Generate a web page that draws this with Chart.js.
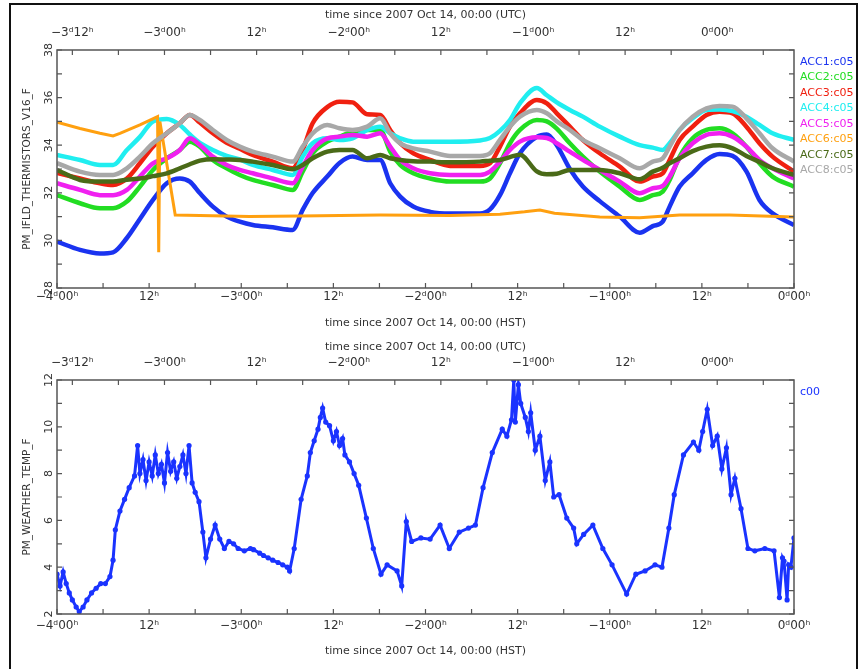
<!DOCTYPE html>
<html><head><meta charset="utf-8">
<script src="https://cdn.jsdelivr.net/npm/chart.js@4.4.0/dist/chart.umd.min.js"></script>
<style>
html,body{margin:0;padding:0;background:#fff;width:864px;height:669px;overflow:hidden}
#frame{position:absolute;left:9px;top:3px;width:849px;height:720px;border:2px solid #111;box-sizing:border-box}
canvas{position:absolute;left:0}
#c1{top:0}
#c2{top:335px}
</style></head><body>
<div id="frame"></div>
<canvas id="c1" width="864" height="335"></canvas>
<canvas id="c2" width="864" height="334"></canvas>
<script>
// ---- tick labels ----
const hstTicks = [-96,-84,-72,-60,-48,-36,-24,-12,0];
const hstLabels = ["−4ᵈ00ʰ","12ʰ","−3ᵈ00ʰ","12ʰ","−2ᵈ00ʰ","12ʰ","−1ᵈ00ʰ","12ʰ","0ᵈ00ʰ"];
const utcTicks = [-84,-72,-60,-48,-36,-24,-12,0];
const utcLabels = ["−3ᵈ12ʰ","−3ᵈ00ʰ","12ʰ","−2ᵈ00ʰ","12ʰ","−1ᵈ00ʰ","12ʰ","0ᵈ00ʰ"];
const utcOffset = 10; // HST = UTC - 10 h
const topYTicks = [28,30,32,34,36,38];
const botYTicks = [2,4,6,8,10,12];

// ---- top panel: thermistors (hours since 2007 Oct 14 00:00 HST) ----
const hours = [-96.0,-93.0,-90.4,-88.7,-86.9,-85.2,-83.5,-81.7,-80.0,-78.7,-77.4,-75.7,-73.9,-72.2,-70.5,-67.9,-65.3,-64.0,-62.7,-60.8,-59.2,-57.5,-55.6,-53.9,-52.6,-51.3,-49.6,-47.4,-44.8,-40.9,-39.6,-38.3,-37.0,-35.7,-33.5,-32.2,-30.9,-29.2,-27.5,-25.3,-22.7,-20.1,-18.4,-17.1,-16.2,-14.9,-13.2,-11.4,-9.7,-8.0,-6.2,-4.5,-2.8,0.0];
const acc1 = [29.95,29.6,29.45,29.5,30.1,30.9,31.7,32.4,32.6,32.47,31.99,31.42,31.0,30.79,30.65,30.55,30.44,31.28,31.99,32.68,33.25,33.52,33.38,33.38,32.4,31.84,31.42,31.2,31.13,31.13,31.3,31.9,32.82,33.66,34.35,34.45,34.0,33.0,32.26,31.65,31.0,30.32,30.6,30.79,31.42,32.26,32.82,33.38,33.63,33.55,32.9,31.7,31.14,30.65];
const acc2 = [31.9,31.56,31.35,31.35,31.63,32.26,32.96,33.45,33.8,34.15,33.94,33.38,33.03,32.75,32.54,32.33,32.12,32.89,33.66,34.15,34.36,34.57,34.64,34.64,33.73,33.17,32.82,32.6,32.47,32.47,32.6,33.24,34.08,34.64,35.06,35.0,34.7,34.08,33.52,32.89,32.26,31.7,31.9,32.05,32.54,33.52,34.29,34.64,34.71,34.5,33.94,33.24,32.68,32.26];
const acc3 = [32.83,32.6,32.4,32.33,32.6,33.24,33.94,34.5,34.92,35.27,34.95,34.5,34.1,33.85,33.59,33.31,33.03,33.8,34.92,35.6,35.83,35.8,35.3,35.27,34.64,34.08,33.66,33.38,33.13,33.13,33.24,33.94,34.78,35.34,35.9,35.76,35.34,34.78,34.22,33.66,33.1,32.47,32.68,32.82,33.38,34.22,34.78,35.27,35.41,35.34,34.78,34.08,33.52,32.89];
const acc4 = [33.59,33.38,33.17,33.17,33.8,34.35,35.0,35.1,34.85,34.45,34.1,33.8,33.55,33.4,33.17,32.96,32.75,33.52,34.08,34.29,34.22,34.29,34.64,34.78,34.5,34.29,34.15,34.15,34.15,34.2,34.3,34.6,35.06,35.76,36.4,36.1,35.8,35.48,35.2,34.78,34.36,34.0,33.9,33.8,34.08,34.64,35.13,35.48,35.5,35.43,35.2,34.85,34.5,34.22];
const acc5 = [32.4,32.12,31.9,31.9,32.12,32.68,33.24,33.45,33.8,34.29,34.01,33.52,33.17,32.96,32.82,32.6,32.4,33.1,33.8,34.29,34.36,34.43,34.36,34.5,33.94,33.38,33.03,32.82,32.75,32.75,32.89,33.31,33.8,34.15,34.33,34.3,34.08,33.73,33.38,32.96,32.47,31.98,32.19,32.29,32.68,33.45,34.08,34.43,34.5,34.36,33.94,33.38,33.03,32.6];
const acc7 = [32.96,32.54,32.47,32.47,32.55,32.6,32.7,32.82,33.03,33.2,33.35,33.41,33.4,33.38,33.31,33.17,32.99,33.17,33.45,33.73,33.8,33.8,33.45,33.59,33.45,33.38,33.33,33.31,33.28,33.31,33.35,33.38,33.5,33.6,32.9,32.78,32.8,32.96,32.96,32.96,32.82,32.57,32.89,33.05,33.24,33.45,33.75,33.94,34.0,33.87,33.55,33.3,33.03,32.75];
const acc8 = [33.25,32.89,32.75,32.75,33.03,33.52,34.08,34.5,34.92,35.27,35.06,34.64,34.22,33.94,33.73,33.52,33.31,33.94,34.5,34.85,34.71,34.64,34.78,35.13,34.5,34.08,33.87,33.73,33.55,33.55,33.66,34.22,34.78,35.2,35.48,35.34,35.0,34.64,34.22,33.87,33.45,33.03,33.31,33.45,33.94,34.64,35.2,35.55,35.65,35.62,35.13,34.5,33.87,33.31];
const acc6Hours = [-96.0,-93.0,-90.4,-88.7,-87.8,-85.2,-82.9,-82.75,-82.6,-80.6,-77.4,-70.9,-64.4,-53.9,-44.8,-38.3,-35.1,-33.1,-31.2,-25.3,-20.1,-14.9,-8.4,0.0];
const acc6 = [34.97,34.7,34.5,34.39,34.5,34.85,35.2,29.5,35.0,31.07,31.05,31.0,31.02,31.07,31.05,31.1,31.2,31.28,31.14,30.98,30.95,31.07,31.07,30.98];

// ---- bottom panel: weather temp ----
const c00Hours = [-96.0,-95.6,-95.2,-94.8,-94.4,-94.0,-93.5,-93.1,-92.6,-92.1,-91.5,-90.9,-90.3,-89.7,-89.1,-88.7,-88.4,-87.8,-87.2,-86.6,-85.9,-85.5,-85.2,-84.8,-84.4,-84.0,-83.6,-83.2,-82.8,-82.4,-82.0,-81.6,-81.2,-80.8,-80.4,-80.0,-79.6,-79.2,-78.8,-78.4,-78.0,-77.5,-77.0,-76.6,-76.0,-75.4,-74.8,-74.2,-73.6,-73.0,-72.4,-71.6,-70.8,-70.4,-69.6,-69.1,-68.5,-67.9,-67.2,-66.6,-66.0,-65.7,-65.1,-64.2,-63.4,-63.0,-62.5,-62.0,-61.7,-61.4,-61.0,-60.5,-60.0,-59.6,-59.2,-58.8,-58.5,-57.9,-57.3,-56.7,-55.7,-54.8,-53.8,-53.0,-51.7,-51.1,-50.5,-49.8,-48.6,-47.4,-46.1,-44.9,-43.6,-42.4,-41.5,-40.5,-39.3,-38.0,-37.4,-36.8,-36.5,-36.3,-35.9,-35.6,-35.0,-34.6,-34.3,-33.7,-33.1,-32.4,-31.8,-31.3,-30.6,-29.6,-28.7,-28.3,-27.4,-26.2,-24.9,-23.7,-21.8,-20.6,-19.4,-18.1,-17.2,-16.3,-15.6,-14.4,-13.1,-12.4,-11.9,-11.3,-10.6,-10.0,-9.4,-8.8,-8.2,-7.7,-6.9,-6.0,-5.1,-3.8,-2.6,-1.9,-1.5,-1.3,-0.9,-0.7,-0.4,0.0];
const c00Temp = [3.7,3.2,3.8,3.3,2.9,2.6,2.3,2.1,2.3,2.6,2.9,3.1,3.3,3.3,3.6,4.3,5.6,6.4,6.9,7.4,7.9,9.2,8.0,8.6,7.7,8.5,7.9,8.8,8.0,8.4,7.6,8.9,8.1,8.5,7.8,8.3,8.8,8.0,9.2,7.6,7.2,6.8,5.5,4.4,5.2,5.8,5.2,4.8,5.1,5.0,4.8,4.7,4.8,4.75,4.6,4.5,4.4,4.3,4.2,4.1,4.0,3.84,4.8,6.9,7.9,8.9,9.4,9.9,10.4,10.8,10.2,10.05,9.4,9.8,9.2,9.5,8.8,8.5,8.0,7.5,6.1,4.8,3.7,4.1,3.84,3.2,5.95,5.1,5.25,5.2,5.8,4.8,5.5,5.67,5.8,7.4,8.9,9.9,9.6,10.3,12.0,10.2,11.8,11.0,10.4,9.8,10.6,9.0,9.6,7.7,8.5,7.0,7.1,6.1,5.67,5.0,5.4,5.8,4.8,4.1,2.85,3.7,3.84,4.1,4.0,5.67,7.1,8.8,9.35,9.0,9.8,10.75,9.2,9.6,8.2,9.1,7.1,7.8,6.5,4.8,4.7,4.8,4.7,2.7,4.4,4.26,2.6,4.1,4.0,5.25];

const FONT = '"DejaVu Sans", sans-serif';
const pts = (xs, ys) => xs.map((h, i) => ({x: h, y: ys[i]}));

function scalesFor(ymin, ymax, topH, bottomH) {
  const hidden = {ticks:{display:false}, grid:{display:false, drawTicks:false}, border:{display:false}};
  return {
    x: Object.assign({type:'linear', min:-96, max:0, position:'bottom', afterFit(s){s.height = bottomH;}}, hidden),
    y: Object.assign({type:'linear', min:ymin, max:ymax, position:'left', afterFit(s){s.width = 57;}}, hidden),
    xTop: Object.assign({type:'linear', min:-96, max:0, position:'top', afterFit(s){s.height = topH;}}, hidden),
    yRight: Object.assign({type:'linear', min:ymin, max:ymax, position:'right', afterFit(s){s.width = 70;}}, hidden)
  };
}

function deco(cfg) {
  return {
    id: 'deco',
    afterDatasetsDraw(chart) {
      const ctx = chart.ctx, a = chart.chartArea;
      const xs = chart.scales.x, ys = chart.scales.y;
      ctx.save();
      ctx.strokeStyle = '#555'; ctx.lineWidth = 1.5;
      ctx.strokeRect(a.left, a.top, a.right - a.left, a.bottom - a.top);
      ctx.lineWidth = 1.2;
      ctx.beginPath();
      for (let h = -96; h <= 0; h += 6) {
        const px = xs.getPixelForValue(h);
        ctx.moveTo(px, a.bottom); ctx.lineTo(px, a.bottom - 5);
      }
      for (let u = -84; u <= 10; u += 6) {
        const h = u - utcOffset;
        if (h < -96 || h > 0) continue;
        const px = xs.getPixelForValue(h);
        ctx.moveTo(px, a.top); ctx.lineTo(px, a.top + 5);
      }
      for (let v = cfg.ymin; v <= cfg.ymax; v += 1) {
        const py = ys.getPixelForValue(v);
        ctx.moveTo(a.left, py); ctx.lineTo(a.left + 5, py);
        ctx.moveTo(a.right, py); ctx.lineTo(a.right - 5, py);
      }
      ctx.stroke();
      ctx.fillStyle = '#333';
      ctx.font = '12px ' + FONT;
      ctx.textAlign = 'center'; ctx.textBaseline = 'middle';
      hstTicks.forEach((h, i) => ctx.fillText(hstLabels[i], xs.getPixelForValue(h), a.bottom + cfg.botLabelGap));
      utcTicks.forEach((u, i) => ctx.fillText(utcLabels[i], xs.getPixelForValue(u - utcOffset), a.top - 17));
      cfg.yTicks.forEach(v => {
        ctx.save();
        ctx.translate(a.left - 8, ys.getPixelForValue(v));
        ctx.rotate(-Math.PI / 2);
        ctx.font = '11px ' + FONT;
        ctx.fillText(String(v), 0, 0);
        ctx.restore();
      });
      ctx.font = '11px ' + FONT;
      const cx = (a.left + a.right) / 2;
      ctx.fillText('time since 2007 Oct 14, 00:00 (UTC)', cx, cfg.utcTitleY);
      ctx.fillText('time since 2007 Oct 14, 00:00 (HST)', cx, a.bottom + cfg.hstTitleGap);
      ctx.save();
      ctx.translate(27, (a.top + a.bottom) / 2);
      ctx.rotate(-Math.PI / 2);
      ctx.font = '10.5px ' + FONT;
      ctx.fillText(cfg.yTitle, 0, 0);
      ctx.restore();
      ctx.textAlign = 'left';
      ctx.font = '11px ' + FONT;
      chart.data.datasets.forEach((ds, i) => {
        ctx.fillStyle = ds.borderColor;
        ctx.fillText(ds.label, a.right + 6, a.top + 12 + i * 15.5);
      });
      ctx.restore();
    }
  };
}

const topSeries = [
  {label:'ACC1:c05', x:hours, y:acc1, color:'#1a33f0'},
  {label:'ACC2:c05', x:hours, y:acc2, color:'#22dd22'},
  {label:'ACC3:c05', x:hours, y:acc3, color:'#f02010'},
  {label:'ACC4:c05', x:hours, y:acc4, color:'#20eef0'},
  {label:'ACC5:c05', x:hours, y:acc5, color:'#f020f0'},
  {label:'ACC6:c05', x:acc6Hours, y:acc6, color:'#ffa010'},
  {label:'ACC7:c05', x:hours, y:acc7, color:'#4a6a18'},
  {label:'ACC8:c05', x:hours, y:acc8, color:'#a8a8a8'}
];

new Chart(document.getElementById('c1'), {
  type: 'line',
  data: {
    datasets: topSeries.map((s, i) => ({
      label: s.label,
      data: pts(s.x, s.y),
      borderColor: s.color,
      borderWidth: s.label === 'ACC6:c05' ? 3 : 4.5,
      pointRadius: 0,
      fill: false,
      cubicInterpolationMode: s.label === 'ACC6:c05' ? 'default' : 'monotone',
      tension: 0,
      order: 8 - i
    }))
  },
  options: {
    responsive: false, animation: false,
    layout: {padding: 0},
    plugins: {legend: {display: false}, tooltip: {enabled: false}},
    scales: scalesFor(28, 38, 50, 47)
  },
  plugins: [deco({ymin:28, ymax:38, yTicks: topYTicks, yTitle:'PM_IFLD_THERMISTORS_V16_F', utcTitleY:15, hstTitleGap:35, botLabelGap:9})]
});

new Chart(document.getElementById('c2'), {
  type: 'line',
  data: {
    datasets: [{
      label: 'c00',
      data: pts(c00Hours, c00Temp),
      borderColor: '#1a33ff',
      backgroundColor: '#1a33ff',
      pointBackgroundColor: '#1a33ff',
      pointBorderWidth: 0,
      borderWidth: 3,
      pointRadius: 2.6,
      fill: false,
      tension: 0
    }]
  },
  options: {
    responsive: false, animation: false,
    layout: {padding: 0},
    plugins: {legend: {display: false}, tooltip: {enabled: false}},
    scales: scalesFor(2, 12, 45, 55)
  },
  plugins: [deco({ymin:2, ymax:12, yTicks: botYTicks, yTitle:'PM_WEATHER_TEMP_F', utcTitleY:12, hstTitleGap:37, botLabelGap:12})]
});
</script>
</body></html>
